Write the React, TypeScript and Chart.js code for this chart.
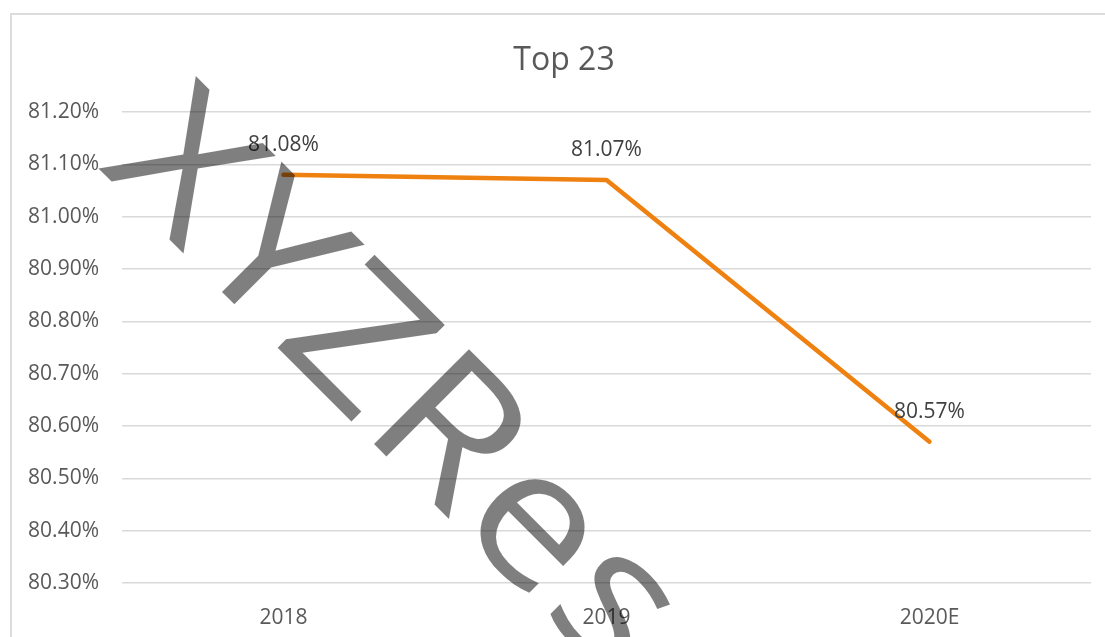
import React, { useEffect, useRef } from "react";
import { Chart, registerables } from "chart.js";

Chart.register(...registerables);

const categories = ["2018", "2019", "2020E"];
const shareValues = [81.08, 81.07, 80.57];
const chartTitle = "Top 23";
const watermarkText = "XYZResearch";
const yMin = 80.3;
const yMax = 81.2;
const yStep = 0.1;

const FONT = '"Open Sans", "Noto Sans", sans-serif';

const titlePlugin = {
  id: "customTitle",
  afterDraw(chart: any) {
    const ctx = chart.ctx;
    ctx.save();
    ctx.font = `32px ${FONT}`;
    ctx.fillStyle = "#595959";
    ctx.textAlign = "center";
    ctx.textBaseline = "alphabetic";
    ctx.fillText(chartTitle, 564, 70);
    ctx.restore();
  },
};

const dataLabelPlugin = {
  id: "dataLabels",
  afterDatasetsDraw(chart: any) {
    const ctx = chart.ctx;
    const meta = chart.getDatasetMeta(0);
    ctx.save();
    ctx.font = `21px ${FONT}`;
    ctx.fillStyle = "#404040";
    ctx.textAlign = "center";
    ctx.textBaseline = "alphabetic";
    meta.data.forEach((pt: any, i: number) => {
      const v = chart.data.datasets[0].data[i];
      ctx.fillText(`${v.toFixed(2)}%`, pt.x, pt.y - 24);
    });
    ctx.restore();
  },
};

const watermarkPlugin = {
  id: "watermark",
  afterDraw(chart: any) {
    const ctx = chart.ctx;
    ctx.save();
    ctx.translate(98, 168);
    ctx.rotate(Math.PI / 4);
    ctx.scale(1.12, 1);
    ctx.font = `188px ${FONT}`;
    (ctx as any).letterSpacing = "3px";
    ctx.fillStyle = "rgba(0,0,0,0.5)";
    ctx.textAlign = "left";
    ctx.textBaseline = "alphabetic";
    ctx.fillText(watermarkText, 0, 0);
    ctx.restore();
  },
};

export default function App() {
  const canvasRef = useRef<HTMLCanvasElement | null>(null);

  useEffect(() => {
    if (!canvasRef.current) return;
    const chart = new Chart(canvasRef.current, {
      type: "line",
      data: {
        labels: categories,
        datasets: [
          {
            label: chartTitle,
            data: shareValues,
            borderColor: "#EF8110",
            borderWidth: 4.5,
            borderCapStyle: "round",
            borderJoinStyle: "round",
            pointRadius: 0,
            pointHoverRadius: 0,
            fill: false,
            tension: 0,
          },
        ],
      },
      options: {
        responsive: false,
        maintainAspectRatio: false,
        animation: false,
        layout: { padding: { left: 0, right: 14, top: 112, bottom: 0 } },
        plugins: {
          legend: { display: false },
          tooltip: { enabled: false },
          title: { display: false },
        },
        scales: {
          x: {
            offset: true,
            grid: { display: false, drawTicks: false },
            border: { display: false },
            ticks: {
              color: "#595959",
              font: { family: FONT, size: 21 },
              padding: 22,
              maxRotation: 0,
            },
            afterFit(scale: any) {
              scale.height = 54;
            },
          },
          y: {
            min: yMin,
            max: yMax,
            grid: { color: "#d9d9d9", lineWidth: 1.5, drawTicks: false },
            border: { display: false },
            ticks: {
              stepSize: yStep,
              color: "#595959",
              font: { family: FONT, size: 21 },
              padding: 23,
              callback: (v: any) => `${Number(v).toFixed(2)}%`,
            },
            afterFit(scale: any) {
              scale.width = 122;
            },
          },
        },
      } as any,
      plugins: [dataLabelPlugin, titlePlugin, watermarkPlugin],
    });
    return () => chart.destroy();
  }, []);

  return (
    <div
      style={{
        position: "fixed",
        left: 0,
        top: 0,
        width: 1105,
        height: 637,
        overflow: "hidden",
        background: "#ffffff",
      }}
    >
      <div
        style={{
          position: "absolute",
          left: 10,
          top: 13,
          width: 1200,
          height: 800,
          border: "2px solid #dcdcdc",
          boxSizing: "border-box",
        }}
      />
      <canvas
        ref={canvasRef}
        width={1105}
        height={637}
        style={{ position: "absolute", left: 0, top: 0, width: 1105, height: 637 }}
      />
    </div>
  );
}
